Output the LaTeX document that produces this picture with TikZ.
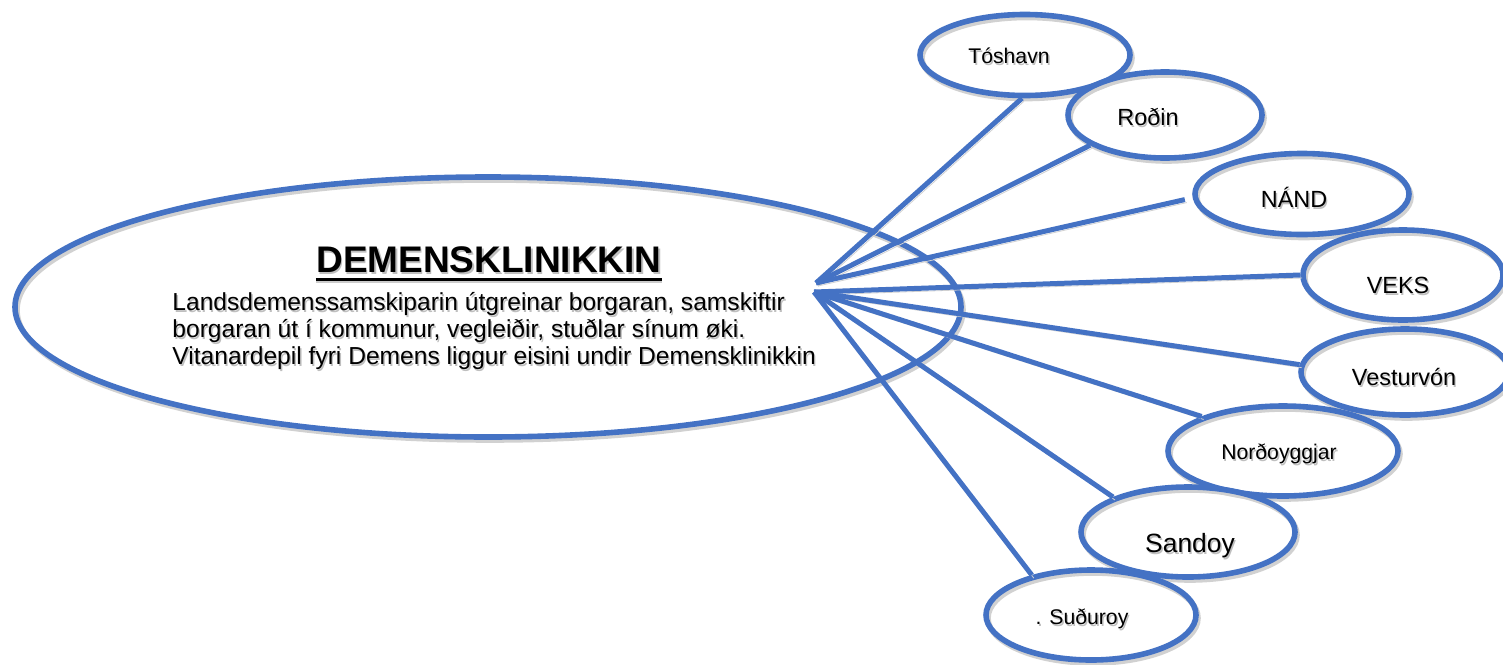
\documentclass[tikz,border=0pt]{standalone}
\usepackage{fontspec}
\setmainfont{Liberation Sans}
\usetikzlibrary{shapes.geometric}
\definecolor{ublue}{HTML}{4472C4}
\newcommand\shd[1]{\makebox[0pt][l]{\hspace{0.7pt}\raisebox{-1pt}{\textcolor{black!25}{#1}}}#1}
\newcommand\fsz[1]{\fontsize{#1}{#1}\selectfont}
\begin{document}
\begin{tikzpicture}[x=0.5pt,y=-0.5pt,
  shadowed/.style={preaction={draw=black!18, transform canvas={xshift=1pt,yshift=-1.5pt}}},
  oval/.style={ellipse, draw=ublue, line width=2.8pt, inner sep=0pt, shadowed},
  link/.style={draw=ublue, line width=2.5pt, shadowed},
  lbl/.style={inner sep=0pt, text=black, anchor=base}]
\useasboundingbox (0,0) rectangle (1503,664);

% central ellipse
\node[oval, minimum width=473pt, minimum height=130pt] (big) at (488,307) {};
\node[lbl, font=\bfseries\fsz{18.5}] (title) at (489,272) {\shd{DEMENSKLINIKKIN}};
\draw[line width=1.5pt, preaction={draw=black!20, line width=1.5pt, transform canvas={yshift=-1.3pt}}]
  ([yshift=-3.5pt]title.base west) -- ([yshift=-3.5pt]title.base east);
\node[lbl, anchor=base west, font=\fsz{12.3}] (body1) at (172,310) {\shd{Landsdemenssamskiparin útgreinar borgaran, samskiftir}};
\node[lbl, anchor=base west, font=\fsz{12.3}] (body2) at (172,337) {\shd{borgaran út í kommunur, vegleiðir, stuðlar sínum øki.}};
\node[lbl, anchor=base west, font=\fsz{12.3}] (body3) at (172,364) {\shd{Vitanardepil fyri Demens liggur eisini undir Demensklinikkin}};

% hub points
\coordinate (hubA) at (816,283);
\coordinate (hubB) at (814,292);

% satellite ellipses
\node[oval, minimum width=105pt, minimum height=40.5pt] (tos) at (1025,55) {};
\node[oval, minimum width=97pt, minimum height=43pt] (rod) at (1165,115) {};
\node[oval, minimum width=107pt, minimum height=40.5pt] (nand) at (1302,194) {};
\node[oval, minimum width=100pt, minimum height=45pt] (veks) at (1403,275) {};
\node[oval, minimum width=104pt, minimum height=43pt] (vest) at (1405,372) {};
\node[oval, minimum width=115pt, minimum height=45pt] (nord) at (1283,451) {};
\node[oval, minimum width=107pt, minimum height=45pt] (sand) at (1188,532) {};
\node[oval, minimum width=105pt, minimum height=45pt] (sud) at (1091,615) {};

% connectors
\draw[link] (hubA) -- (tos.266);
\draw[link] (hubA) -- (rod.202);
\draw[link, shorten >=4pt] (hubA) -- (nand.182);
\draw[link] (hubB) -- (veks.west);
\draw[link] (hubB) -- (vest.176);
\draw[link] (hubB) -- (nord.157);
\draw[link] (hubB) -- (sand.155);
\draw[link] (hubB) -- (sud.146);

% labels
\node[lbl, font=\fsz{10.6}] (tosT) at (1009,63) {\shd{Tóshavn}};
\node[lbl, font=\fsz{11.7}] (rodT) at (1148,125) {\shd{Roðin}};
\node[lbl, font=\fsz{11.7}] (nandT) at (1294,207) {\shd{NÁND}};
\node[lbl, font=\fsz{11.7}] (veksT) at (1398,293) {\shd{VEKS}};
\node[lbl, font=\fsz{11.7}] (vestT) at (1404,385) {\shd{Vesturvón}};
\node[lbl, font=\fsz{10.6}] (nordT) at (1279,459) {\shd{Norðoyggjar}};
\node[lbl, font=\fsz{13.2}] (sandT) at (1190,552) {\shd{Sandoy}};
\node[lbl, font=\fsz{10.6}] (sudT) at (1082,624) {\shd{. Suðuroy}};
\end{tikzpicture}
\end{document}
